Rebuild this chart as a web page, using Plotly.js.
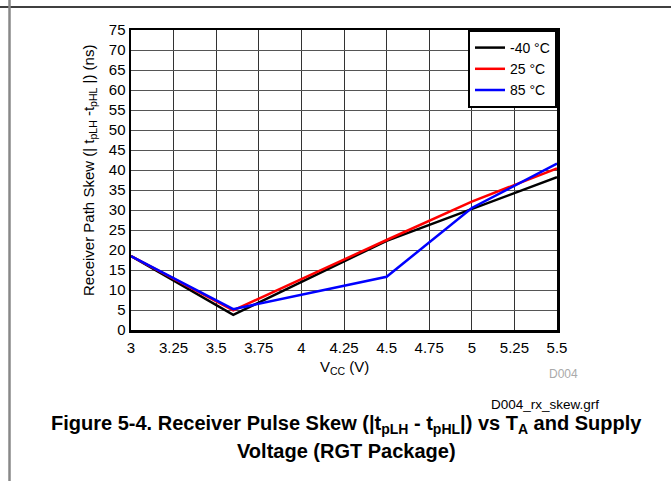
<!DOCTYPE html>
<html>
<head>
<meta charset="utf-8">
<script src="https://cdn.plot.ly/plotly-3.0.1.min.js"></script>
<style>html,body{margin:0;padding:0;background:#fff;}#chart{width:671px;height:487px;}</style>
</head>
<body>
<div id="chart"></div>
<script>
const seriesNames = ["-40 °C", "25 °C", "85 °C"];
const seriesColors = ["#000000", "#ff0000", "#0000ff"];
const vccM40 = [3, 3.6, 4.5, 5.5];
const skewM40 = [18.5, 3.8, 22.3, 38.2];
const vcc25 = [3, 3.6, 4.5, 5, 5.5];
const skew25 = [18.5, 4.9, 22.5, 32.1, 40.4];
const vcc85 = [3, 3.6, 4.5, 5, 5.5];
const skew85 = [18.5, 5.2, 13.3, 30.5, 41.6];
const xTickVals = [3, 3.25, 3.5, 3.75, 4, 4.25, 4.5, 4.75, 5, 5.25, 5.5];
const xTickText = ["3", "3.25", "3.5", "3.75", "4", "4.25", "4.5", "4.75", "5", "5.25", "5.5"];
const yTickVals = [0,5,10,15,20,25,30,35,40,45,50,55,60,65,70,75];

const xs = [vccM40, vcc25, vcc85];
const ys = [skewM40, skew25, skew85];
const traces = xs.map((x, i) => ({
  x: x, y: ys[i], type: 'scatter', mode: 'lines', name: seriesNames[i],
  line: {color: seriesColors[i], width: 2.5}
}));

const F = 'Liberation Sans, Arial, sans-serif';
// plot area in pixels: left 131, right 557, top 30, bottom 330
const px = p => (p - 131) / 426;
const py = p => (330 - p) / 300;

const layout = {
  width: 671, height: 487,
  margin: {l: 131, r: 114, t: 30, b: 157},
  paper_bgcolor: '#fff', plot_bgcolor: '#fff',
  font: {family: F, size: 15, color: '#000'},
  showlegend: true,
  legend: {x: 1, xanchor: 'right', y: 1, yanchor: 'top', bgcolor: '#fff',
           bordercolor: '#000', borderwidth: 2, font: {family: F, size: 14},
           tracegroupgap: 0, itemwidth: 30},
  xaxis: {range: [3, 5.5], tickvals: xTickVals, ticktext: xTickText,
          showgrid: true, gridcolor: '#333', gridwidth: 1,
          showline: true, linecolor: '#000', linewidth: 2.5, mirror: true,
          ticks: '', zeroline: false, tickfont: {size: 15, family: F}, ticklabelstandoff: 2},
  yaxis: {range: [0, 75], tickvals: yTickVals,
          showgrid: true, gridcolor: '#555', gridwidth: 1,
          showline: true, linecolor: '#000', linewidth: 2.5, mirror: true,
          ticks: '', zeroline: false, tickfont: {size: 15, family: F}},
  shapes: [
    {type: 'line', xref: 'paper', yref: 'paper', x0: px(0), x1: px(671), y0: py(7), y1: py(7),
     line: {color: '#000', width: 1.5}},
    {type: 'line', xref: 'paper', yref: 'paper', x0: px(9.5), x1: px(9.5), y0: py(0), y1: py(481),
     line: {color: '#888', width: 2.5}}
  ],
  annotations: [
    {xref: 'paper', yref: 'paper', x: px(89), y: py(171), text: 'Receiver Path Skew (| t<sub>pLH</sub> -t<sub>pHL</sub> |) (ns)',
     textangle: -90, showarrow: false, font: {size: 15, family: F}, xanchor: 'center', yanchor: 'middle'},
    {xref: 'paper', yref: 'paper', x: px(344), y: py(367), text: 'V<sub>CC</sub> (V)',
     showarrow: false, font: {size: 15, family: F}, xanchor: 'center', yanchor: 'middle'},
    {xref: 'paper', yref: 'paper', x: px(580), y: py(374), text: 'D004',
     showarrow: false, font: {size: 12, family: F, color: '#aaa'}, xanchor: 'right', yanchor: 'middle'},
    {xref: 'paper', yref: 'paper', x: px(601), y: py(404), text: 'D004_rx_skew.grf',
     showarrow: false, font: {size: 13.5, family: F}, xanchor: 'right', yanchor: 'middle'},
    {xref: 'paper', yref: 'paper', x: px(346), y: py(424), text: '<b>Figure 5-4. Receiver Pulse Skew (|t<sub>pLH</sub> - t<sub>pHL</sub>|) vs T<sub>A</sub> and Supply</b>',
     showarrow: false, font: {size: 20, family: F}, xanchor: 'center', yanchor: 'middle'},
    {xref: 'paper', yref: 'paper', x: px(346), y: py(451), text: '<b>Voltage (RGT Package)</b>',
     showarrow: false, font: {size: 20, family: F}, xanchor: 'center', yanchor: 'middle'}
  ]
};
Plotly.newPlot('chart', traces, layout, {displayModeBar: false, staticPlot: true});
</script>
</body>
</html>
